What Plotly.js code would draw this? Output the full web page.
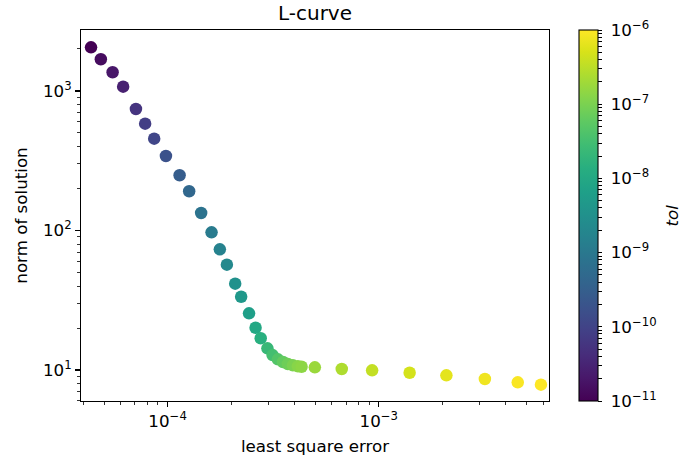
<!DOCTYPE html>
<html>
<head>
<meta charset="utf-8">
<script src="https://cdn.plot.ly/plotly-3.0.1.min.js"></script>
<style>html,body{margin:0;padding:0;background:#fff;}#chart{width:680px;height:459px;}</style>
</head>
<body>
<div id="chart"></div>
<script>
// least square error (x), norm of solution (y), log10(tol) (colour)
const lsqError = [4.34e-5, 4.83e-5, 5.49e-5, 6.16e-5, 7.08e-5, 7.83e-5, 8.64e-5, 9.82e-5,
  1.14e-4, 1.265e-4, 1.442e-4, 1.615e-4, 1.768e-4, 1.909e-4, 2.09e-4, 2.23e-4, 2.43e-4,
  2.61e-4, 2.76e-4, 2.97e-4, 3.14e-4, 3.33e-4, 3.52e-4, 3.71e-4, 3.92e-4, 4.14e-4, 4.31e-4,
  4.98e-4, 6.68e-4, 9.30e-4, 1.40e-3, 2.09e-3, 3.18e-3, 4.55e-3, 5.86e-3];
const solNorm = [2056, 1687, 1362, 1074, 743, 583, 455, 342, 249, 191, 133.5, 97, 73.3, 56.9,
  41.6, 33.5, 25.5, 20.1, 16.9, 14.3, 12.8, 11.93, 11.41, 11.04, 10.81, 10.65, 10.56, 10.45,
  10.17, 9.95, 9.56, 9.16, 8.62, 8.16, 7.85];
const tolExp = [-11.0, -10.85, -10.7, -10.55, -10.25, -10.1, -9.95, -9.75, -9.55, -9.35,
  -9.1, -8.95, -8.8, -8.65, -8.5, -8.35, -8.2, -8.0, -7.85, -7.65, -7.5, -7.35, -7.2, -7.1,
  -7.0, -6.9, -6.85, -6.75, -6.6, -6.45, -6.32, -6.2, -6.1, -6.03, -6.0];
const cbDecades = [-11, -10, -9, -8, -7, -6];
const cbLabels = ['10<sup>−11</sup>', '10<sup>−10</sup>', '10<sup>−9</sup>', '10<sup>−8</sup>', '10<sup>−7</sup>', '10<sup>−6</sup>'];
const xTickVals = [1e-4, 1e-3];
const xTickText = ['10<sup>−4</sup>', '10<sup>−3</sup>'];
const yTickVals = [10, 100, 1000];
const yTickText = ['10<sup>1</sup>', '10<sup>2</sup>', '10<sup>3</sup>'];

// colorbar tick positions (major decades + minor log ticks)
const cbTickVals = [], cbTickText = [];
cbDecades.forEach((d, i) => {
  cbTickVals.push(d); cbTickText.push('\u00a0' + cbLabels[i]);
  if (d < -6) for (let k = 2; k <= 9; k++) { cbTickVals.push(d + Math.log10(k)); cbTickText.push(''); }
});

const font = {family: 'DejaVu Sans, sans-serif', size: 16.7, color: '#000'};

const trace = {
  x: lsqError, y: solNorm, type: 'scatter', mode: 'markers',
  marker: {
    size: 12.5, color: tolExp, colorscale: 'Viridis', cmin: -11, cmax: -6,
    line: {width: 0},
    colorbar: {
      x: 1.0647, xanchor: 'left', xref: 'paper', y: 0.5, yanchor: 'middle',
      len: 1, lenmode: 'fraction', thickness: 19, thicknessmode: 'pixels',
      outlinewidth: 1.1, outlinecolor: '#000',
      tickmode: 'array', tickvals: cbTickVals, ticktext: cbTickText,
      ticks: 'outside', ticklen: 4, tickwidth: 1, tickcolor: '#000',
      tickfont: font, xpad: 0, ypad: 0
    }
  },
  hoverinfo: 'x+y'
};

const axisCommon = {
  type: 'log', showgrid: false, zeroline: false, showline: true, mirror: true,
  linecolor: '#000', linewidth: 1.1, ticks: 'outside', ticklen: 4.9, tickwidth: 1.1,
  tickcolor: '#000', tickmode: 'array', tickfont: font,
  minor: {ticks: 'outside', ticklen: 2.8, tickwidth: 0.8, tickcolor: '#000', dtick: 'D1', showgrid: false}
};

const layout = {
  width: 680, height: 459,
  margin: {l: 81, r: 131, t: 30, b: 58, pad: 0},
  paper_bgcolor: '#fff', plot_bgcolor: '#fff',
  font: font,
  showlegend: false,
  title: {text: 'L-curve', font: {family: 'DejaVu Sans, sans-serif', size: 20, color: '#000'},
    x: 0.5, xref: 'paper', y: 1 - 13 / 459, yref: 'container', yanchor: 'middle'},
  xaxis: Object.assign({}, axisCommon, {
    range: [-4.41, -2.194], tickvals: xTickVals, ticktext: xTickText,
    title: {text: 'least square error', font: font, standoff: 10}
  }),
  yaxis: Object.assign({}, axisCommon, {
    range: [0.778, 3.437], tickvals: yTickVals, ticktext: yTickText,
    title: {text: 'norm of solution', font: font, standoff: 11}
  }),
  annotations: [{
    text: '<i>tol</i>', xref: 'paper', yref: 'paper', x: (671 - 81) / 468, y: 0.5,
    xanchor: 'center', yanchor: 'middle', textangle: -90, showarrow: false, font: font
  }]
};

Plotly.newPlot('chart', [trace], layout, {displayModeBar: false, staticPlot: true});
</script>
</body>
</html>
